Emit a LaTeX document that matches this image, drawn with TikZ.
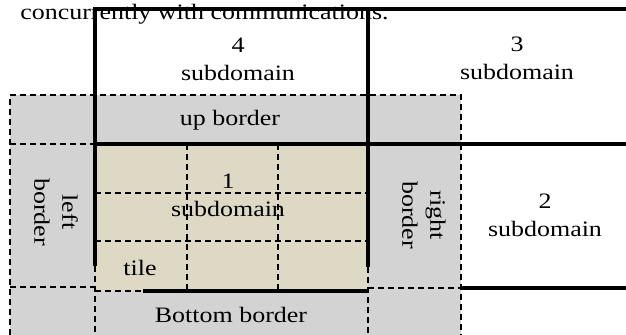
\documentclass[tikz,border=0pt]{standalone}
\usepackage{fontspec}
\setmainfont{Liberation Serif}[FakeStretch=1.18]
\usepackage{tikz}
\usetikzlibrary{positioning}
\definecolor{halo}{HTML}{D3D3D3}
\definecolor{core}{HTML}{DDD9C4}
\tikzset{
  part/.style   = {line width=2.3pt, draw=black},
  edge/.style   = {line width=0.9pt, draw=black, dash pattern=on 4.5pt off 3pt},
  lbl/.style    = {align=center, inner sep=0pt, font=\fontsize{16.5}{21}\selectfont},
}

\begin{document}
\begin{tikzpicture}[x=0.75pt,y=-0.75pt]
  \useasboundingbox (0,0) rectangle (626,335);

  % halo around subdomain 1, then its tiles
  \fill[halo] (10,95) rectangle (461,335);
  \fill[core] (95,144) rectangle (368,291);

  \node[lbl, anchor=base west] (note) at (20,20) {concurrently with communications.};

  % dashed borders of the halo
  \draw[edge] (10,335) -- (10,95) -- (461,95) -- (461,335);
  \draw[edge] (10,144) -- (95,144);
  \draw[edge] (10,287) -- (95,287);
  \draw[edge] (95,266) -- (95,335);
  \draw[edge] (368,267) -- (368,335);
  \draw[edge] (368,288) -- (461,288);
  \draw[edge] (95,291) -- (143,291);

  % tile grid
  \foreach \tx in {187,278}
    \draw[edge] (\tx,144) -- (\tx,291);
  \foreach \ty in {193,241}
    \draw[edge] (95,\ty) -- (368,\ty);

  % subdomain boundaries
  \draw[part] (626,9) -- (95,9) -- (95,266);
  \draw[part] (368,9) -- (368,267);
  \draw[part] (95,144) -- (626,144);
  \draw[part] (143,291) -- (368,291);
  \draw[part] (461,288) -- (626,288);

  \node[lbl] (sd4) at (238,59) {4\\subdomain};
  \node[lbl] (sd3) at (517,58) {3\\subdomain};
  \node[lbl] (sd2) at (545,215) {2\\subdomain};
  \node[lbl] (sd1) at (228,195) {1\\subdomain};
  \node[lbl] (up) at (230,120) {up border};
  \node[lbl, rotate=-90] (left) at (56,212) {left\\border};
  \node[lbl, rotate=-90] (right) at (424,215) {right\\border};
  \node[lbl] (tile) at (140,268) {tile};
  \node[lbl] (bottom) at (231,315) {Bottom border};
\end{tikzpicture}
\end{document}
